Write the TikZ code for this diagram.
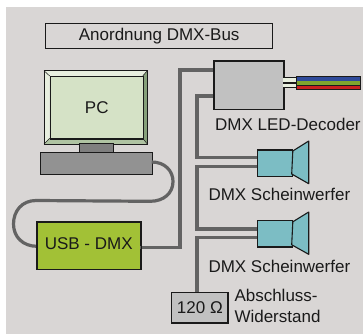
\documentclass[tikz,border=0pt]{standalone}
\usepackage{fontspec}
\setmainfont{Liberation Sans}
\definecolor{bgc}{HTML}{D9D6D5}
\definecolor{pcf}{HTML}{D5E2C6}
\definecolor{pcl}{HTML}{E8EFDF}
\definecolor{pcm}{HTML}{AFC3A2}
\definecolor{pcd}{HTML}{86A07A}
\definecolor{usbc}{HTML}{A2C136}
\definecolor{spk}{HTML}{7CBDC4}
\definecolor{cbl}{HTML}{636363}
\definecolor{gr}{HTML}{C1C1C1}
\definecolor{kb}{HTML}{929292}
\definecolor{stc}{HTML}{7F7F7F}
\definecolor{ln}{HTML}{1A1A1A}
\definecolor{wblue}{HTML}{2F4A9A}
\definecolor{wgreen}{HTML}{7FA52E}
\definecolor{wred}{HTML}{C8201F}
\begin{document}
\begin{tikzpicture}[x=1pt,y=-1pt,
  txt/.style={inner sep=0pt,font=\fontsize{17pt}{21pt}\selectfont,text=ln},
  box/.style={draw=ln,line width=1.1pt,inner sep=0pt,anchor=north west},
  cable/.style={draw=cbl,line width=3.4pt},
  cord/.style={draw=cbl,line width=3.2pt},
  spkbox/.style={box,fill=spk,minimum width=34.4pt,minimum height=26pt},
  cone/.style={draw=ln,line width=1.1pt,fill=spk,line join=round},
  bevel/.style={draw=ln,line width=.5pt}]
\useasboundingbox (0,0) rectangle (363,334);
\fill[bgc] (6,7) rectangle (363,334);
% title
\node[box,minimum width=227.3pt,minimum height=25.3pt] (title) at (45,22.7) {};
\node[txt] (titletext) at (title.center) {Anordnung DMX-Bus};
% nodes
\node[box,fill=gr,minimum width=69pt,minimum height=47.7pt] (dec) at (214,61) {};
\node[box,fill=usbc,minimum width=103.3pt,minimum height=47pt] (usbn) at (37,221.7) {};
\node[txt] (usbtext) at (88.7,243.3) {USB - DMX};
\node[spkbox] (s1) at (257.3,149.5) {};
\node[spkbox] (s2) at (257.3,220.3) {};
\node[box,fill=gr,minimum width=56pt,minimum height=29.7pt] (res) at (171.3,292.3) {};
\node[txt] (restext) at (res.center) {120 \char"03A9};
% monitor
\coordinate (mA) at (44,70.7); \coordinate (mB) at (147.3,70.7);
\coordinate (mC) at (147.3,144); \coordinate (mD) at (44,144);
\coordinate (iA) at (49.7,76); \coordinate (iB) at (142.7,76);
\coordinate (iC) at (142.7,138.3); \coordinate (iD) at (49.7,138.3);
\fill[pcl] (mA)--(mB)--(iB)--(iA)--cycle;
\fill[pcl] (mA)--(iA)--(iD)--(mD)--cycle;
\fill[pcd] (mB)--(mC)--(iC)--(iB)--cycle;
\fill[pcm] (mD)--(iD)--(iC)--(mC)--cycle;
\draw[bevel] (mA)--(iA) (mB)--(iB) (mC)--(iC) (mD)--(iD);
\draw[draw=ln,line width=1pt] (mA)--(mB)--(mC)--(mD)--cycle;
\node[box,fill=pcf,minimum width=93pt,minimum height=62.3pt,line width=1.2pt] (pc) at (iA) {};
\node[txt] (pctext) at (pc.center) {PC};
\node[box,fill=stc,minimum width=34.3pt,minimum height=9pt] (stand) at (78.7,143.3) {};
\node[box,fill=kb,minimum width=111.7pt,minimum height=21.7pt] (kbd) at (40,152) {};
% cables
\coordinate (uo) at (140.3,247.3);
\coordinate (b1) at (180,247.3);
\coordinate (b2) at (180,70);
\coordinate (d1) at (214,70);
\coordinate (d2) at (214,96);
\coordinate (v1) at (197,96);
\coordinate (v2) at (197,157.3);
\coordinate (s1a) at (257.3,157.3);
\coordinate (s1b) at (257.3,166.7);
\coordinate (v3) at (197,166.7);
\coordinate (v4) at (197,229);
\coordinate (s2a) at (257.3,229);
\coordinate (s2b) at (257.3,237.5);
\coordinate (v5) at (197,237.5);
\coordinate (v6) at (197,292.3);
\draw[cable] (uo) -- (b1) -- (b2) -- (d1);
\draw[cable] (d2) -- (v1) -- (v2) -- (s1a);
\draw[cable] (s1b) -- (v3) -- (v4) -- (s2a);
\draw[cable] (s2b) -- (v5) -- (v6);
\coordinate (ki) at (151.7,162);
\coordinate (ui) at (37,246.3);
\draw[cord] (ki) .. controls (165,162) and (173,171) .. (173,181.5)
  .. controls (173,193) and (164,201.3) .. (150,201.3)
  -- (36,200.5) .. controls (22,200.5) and (13.5,211) .. (13.5,224)
  .. controls (13.5,237) and (23,246.3) .. (ui);
% redraw outlines above cable ends
\draw[draw=ln,line width=1.1pt] (dec.north west) rectangle (dec.south east);
\draw[draw=ln,line width=1.1pt] (usbn.north west) rectangle (usbn.south east);
\draw[draw=ln,line width=1.1pt] (s1.north west) rectangle (s1.south east);
\draw[draw=ln,line width=1.1pt] (s2.north west) rectangle (s2.south east);
\draw[draw=ln,line width=1.1pt] (res.north west) rectangle (res.south east);
% cones
\draw[cone] (s1.north east) ++(0,1.5) -- (308.7,141) -- (308.7,183.7) -- (291.7,174) -- cycle;
\draw[cone] (s2.north east) ++(0,1.5) -- (308.7,212) -- (308.7,254.3) -- (291.7,244.8) -- cycle;
% LED wires
\fill[pcl] (283,77.5) rectangle (296,82);
\fill[pcl] (283,83.2) rectangle (296,87.5);
\draw[draw=ln,line width=.6pt] (283,77.5) -- (296,77.5) (283,82) -- (296,82) (283,83.2) -- (296,83.2) (283,87.5) -- (296,87.5);
\fill[ln] (295.7,75.7) rectangle (361,90);
\fill[wblue] (296.7,77) rectangle (360,80.6);
\fill[wgreen] (296.7,81.4) rectangle (360,84.6);
\fill[wred] (296.7,85.6) rectangle (360,89);
% labels
\node[txt,anchor=base west] (l1) at (215,130) {DMX LED-Decoder};
\node[txt,anchor=base west] (l2) at (208.3,200.7) {DMX Scheinwerfer};
\node[txt,anchor=base west] (l3) at (208.3,272) {DMX Scheinwerfer};
\node[txt,anchor=base west] (l4) at (234.3,301) {Abschluss-};
\node[txt,anchor=base west] (l5) at (234.3,322) {Widerstand};
\end{tikzpicture}
\end{document}
